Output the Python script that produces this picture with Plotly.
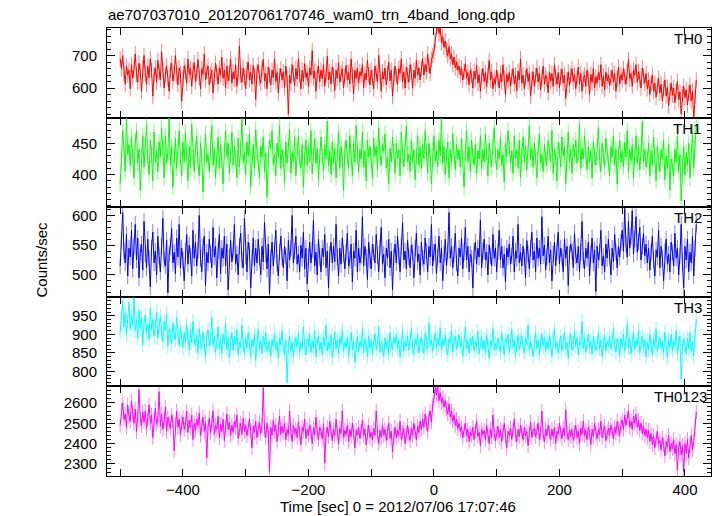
import plotly.graph_objects as go

# time grid of the light curve bins (seconds from 2012/07/06 17:07:46)
T_START = -500
T_STEP = 2

th0 = [
    690, 660, 700, 645, 612, 668, 640, 655, 598, 672,
    630, 658, 705, 642, 618, 676, 650, 590, 664, 700,
    645, 612, 668, 632, 690, 655, 575, 640, 662, 618,
    685, 648, 626, 712, 655, 600, 640, 668, 630, 590,
    655, 676, 622, 645, 700, 638, 610, 662, 644, 560,
    630, 668, 650, 615, 690, 642, 660, 605, 655, 678,
    620, 645, 688, 632, 598, 660, 642, 705, 625, 650,
    668, 610, 640, 655, 585, 632, 676, 648, 612, 662,
    640, 695, 630, 655, 600, 668, 622, 645, 690, 615,
    650, 628, 672, 605, 645, 730, 640, 618, 662, 635,
    598, 655, 680, 625, 648, 612, 670, 640, 565, 650,
    672, 630, 615, 660, 688, 622, 645, 598, 665, 640,
    610, 655, 632, 690, 620, 648, 585, 638, 660, 625,
    650, 602, 668, 630, 520, 640, 615, 672, 645, 608,
    660, 628, 690, 640, 598, 655, 620, 675, 632, 648,
    605, 662, 640, 715, 630, 652, 590, 645, 668, 620,
    655, 628, 672, 606, 640, 698, 625, 650, 612, 665,
    640, 592, 655, 630, 678, 618, 645, 660, 600, 638,
    670, 625, 648, 612, 690, 640, 582, 655, 630, 662,
    615, 650, 638, 672, 600, 645, 625, 685, 640, 610,
    655, 632, 598, 668, 645, 620, 700, 638, 590, 650,
    628, 662, 610, 645, 680, 622, 655, 575, 640, 668,
    635, 612, 660, 645, 690, 620, 650, 600, 665, 640,
    618, 672, 648, 600, 655, 630, 685, 640, 662, 625,
    660, 690, 640, 672, 650, 705, 668, 645, 688, 700,
    712, 748, 790, 800, 768, 785, 740, 758, 725, 745,
    718, 700, 728, 690, 705, 672, 695, 662, 680, 655,
    668, 640, 662, 625, 650, 675, 632, 648, 610, 655,
    638, 600, 652, 628, 670, 615, 642, 590, 635, 660,
    620, 648, 605, 640, 685, 625, 650, 598, 630, 612,
    655, 628, 600, 645, 618, 672, 630, 580, 642, 620,
    648, 605, 635, 660, 612, 640, 592, 652, 625, 690,
    615, 640, 598, 632, 660, 620, 645, 575, 628, 650,
    605, 638, 662, 618, 645, 595, 630, 668, 612, 640,
    628, 585, 650, 622, 645, 605, 672, 630, 612, 648,
    600, 635, 658, 615, 640, 568, 625, 650, 608, 638,
    660, 620, 642, 598, 630, 665, 612, 645, 590, 628,
    640, 605, 655, 628, 580, 642, 618, 660, 600, 635,
    615, 648, 625, 672, 605, 638, 595, 650, 622, 640,
    608, 632, 655, 618, 645, 590, 628, 665, 612, 642,
    625, 660, 635, 612, 650, 688, 628, 645, 605, 655,
    640, 672, 618, 650, 628, 600, 662, 635, 615, 645,
    598, 625, 580, 612, 640, 590, 615, 572, 605, 630,
    585, 612, 560, 598, 625, 575, 602, 545, 590, 615,
    578, 600, 555, 592, 620, 565, 588, 520, 580, 605,
    570, 595, 548, 585, 610, 560, 590, 505, 575, 625,
]

th1 = [
    385, 420, 470, 440, 405, 490, 432, 448, 415, 460,
    428, 395, 452, 470, 418, 440, 375, 430, 462, 412,
    445, 480, 425, 400, 455, 432, 390, 468, 420, 438,
    405, 452, 428, 475, 440, 395, 462, 418, 435, 490,
    415, 445, 380, 432, 458, 410, 440, 470, 425, 398,
    452, 420, 468, 435, 390, 445, 412, 480, 428, 405,
    440, 462, 418, 398, 450, 425, 372, 438, 465, 420,
    432, 405, 455, 478, 415, 442, 395, 425, 460, 410,
    448, 420, 385, 438, 470, 428, 450, 402, 432, 468,
    415, 445, 425, 395, 458, 412, 440, 490, 420, 435,
    400, 452, 430, 465, 380, 425, 448, 410, 472, 438,
    420, 395, 445, 428, 460, 405, 435, 365, 425, 455,
    442, 470, 415, 432, 398, 450, 428, 478, 410, 440,
    425, 388, 452, 418, 445, 472, 402, 435, 420, 460,
    398, 438, 462, 425, 410, 448, 380, 430, 455, 415,
    445, 420, 470, 402, 435, 458, 418, 442, 392, 428,
    460, 430, 405, 448, 425, 485, 415, 438, 400, 452,
    418, 442, 395, 432, 468, 410, 445, 425, 375, 438,
    455, 428, 410, 462, 435, 398, 450, 420, 478, 432,
    405, 440, 425, 468, 412, 438, 390, 455, 428, 445,
    422, 395, 458, 430, 445, 408, 475, 432, 415, 448,
    438, 465, 410, 428, 385, 442, 420, 460, 435, 402,
    450, 425, 440, 398, 468, 430, 412, 445, 478, 420,
    432, 405, 455, 420, 440, 392, 428, 462, 415, 445,
    410, 448, 425, 470, 435, 402, 450, 428, 385, 440,
    462, 420, 438, 412, 455, 430, 490, 418, 445, 400,
    428, 452, 395, 440, 420, 465, 432, 408, 448, 425,
    440, 412, 458, 425, 380, 435, 470, 420, 445, 405,
    455, 430, 415, 448, 402, 438, 425, 462, 410, 440,
    420, 465, 435, 398, 450, 428, 412, 445, 475, 430,
    408, 440, 425, 458, 415, 432, 388, 450, 428, 470,
    445, 418, 438, 402, 462, 425, 440, 410, 455, 395,
    432, 460, 420, 445, 408, 435, 478, 425, 442, 412,
    450, 428, 395, 440, 465, 418, 432, 405, 448, 425,
    415, 455, 435, 420, 470, 402, 440, 428, 390, 452,
    438, 412, 460, 430, 445, 385, 425, 468, 420, 440,
    402, 448, 428, 455, 418, 435, 480, 410, 442, 425,
    462, 430, 408, 445, 420, 438, 395, 452, 428, 415,
    440, 475, 425, 405, 450, 430, 412, 458, 435, 420,
    398, 445, 428, 462, 415, 440, 385, 432, 455, 420,
    438, 412, 452, 428, 470, 405, 440, 422, 448, 395,
    432, 462, 418, 445, 408, 435, 485, 420, 440, 412,
    425, 450, 398, 438, 415, 460, 428, 390, 445, 420,
    405, 440, 425, 455, 392, 430, 410, 448, 375, 425,
    415, 398, 440, 420, 462, 405, 432, 358, 418, 445,
    400, 435, 415, 450, 395, 428, 468, 410, 445, 480,
]

th2 = [
    515, 558, 605, 540, 520, 568, 498, 545, 530, 575,
    510, 548, 585, 525, 562, 495, 538, 552, 508, 590,
    535, 512, 560, 528, 480, 545, 572, 520, 540, 500,
    565, 532, 505, 548, 595, 525, 515, 558, 470, 535,
    548, 578, 520, 538, 502, 562, 530, 585, 512, 545,
    525, 490, 540, 568, 518, 550, 532, 498, 575, 528,
    555, 515, 542, 600, 528, 505, 548, 565, 482, 538,
    520, 560, 535, 512, 580, 530, 548, 495, 540, 568,
    502, 545, 528, 565, 515, 552, 475, 530, 558, 522,
    540, 585, 518, 535, 500, 548, 570, 525, 512, 595,
    532, 505, 555, 540, 478, 528, 562, 515, 545, 520,
    560, 530, 500, 548, 522, 588, 535, 510, 552, 468,
    528, 555, 515, 542, 575, 520, 498, 538, 565, 530,
    512, 548, 532, 490, 558, 525, 545, 600, 520, 540,
    565, 518, 535, 505, 550, 528, 572, 510, 545, 485,
    530, 555, 520, 542, 592, 515, 538, 500, 560, 528,
    505, 545, 530, 568, 512, 540, 478, 535, 555, 520,
    548, 522, 585, 530, 498, 545, 518, 562, 535, 510,
    538, 570, 515, 525, 552, 488, 540, 528, 575, 505,
    545, 520, 532, 598, 515, 548, 530, 492, 555, 525,
    510, 552, 538, 520, 568, 532, 505, 545, 580, 518,
    535, 495, 545, 528, 560, 512, 540, 475, 530, 552,
    520, 565, 532, 505, 548, 588, 525, 540, 510, 558,
    530, 512, 550, 538, 495, 545, 570, 522, 535, 500,
    555, 528, 518, 562, 540, 505, 548, 530, 585, 515,
    538, 552, 502, 530, 565, 520, 545, 490, 535, 560,
    515, 540, 605, 528, 548, 512, 535, 570, 520, 498,
    545, 530, 562, 510, 538, 580, 525, 548, 505, 535,
    528, 478, 540, 555, 518, 545, 530, 592, 512, 540,
    560, 525, 538, 500, 550, 532, 515, 568, 528, 545,
    505, 540, 575, 525, 548, 512, 535, 488, 545, 530,
    552, 518, 532, 565, 505, 540, 528, 585, 520, 538,
    515, 548, 530, 495, 558, 535, 510, 545, 572, 525,
    540, 505, 562, 528, 545, 518, 598, 532, 550, 508,
    530, 565, 520, 542, 490, 535, 555, 515, 540, 572,
    518, 545, 530, 505, 560, 528, 548, 482, 535, 552,
    540, 512, 570, 532, 520, 548, 505, 538, 590, 525,
    510, 545, 528, 555, 498, 535, 562, 520, 542, 472,
    548, 525, 538, 575, 515, 532, 505, 552, 528, 560,
    530, 500, 545, 522, 568, 538, 512, 548, 530, 555,
    575, 540, 612, 552, 530, 590, 545, 565, 608, 535,
    560, 598, 538, 555, 580, 525, 548, 570, 532, 552,
    520, 545, 508, 538, 565, 525, 498, 542, 530, 575,
    512, 548, 528, 490, 540, 560, 518, 535, 505, 555,
    538, 515, 570, 528, 545, 500, 532, 585, 520, 478,
    548, 525, 560, 505, 538, 520, 565, 498, 545, 585,
]

th3 = [
    905, 945, 990, 920, 958, 900, 935, 985, 915, 950,
    925, 998, 910, 940, 890, 965, 918, 945, 872, 930,
    952, 905, 928, 885, 970, 912, 940, 895, 920, 960,
    890, 925, 948, 902, 880, 935, 910, 955, 868, 915,
    900, 875, 930, 905, 885, 945, 895, 870, 918, 892,
    865, 905, 880, 925, 890, 858, 912, 878, 935, 885,
    870, 898, 850, 915, 880, 860, 905, 875, 840, 890,
    912, 868, 888, 945, 870, 895, 852, 880, 920, 862,
    885, 848, 900, 875, 930, 860, 890, 838, 878, 905,
    858, 895, 872, 912, 845, 880, 865, 925, 870, 850,
    890, 862, 905, 878, 840, 885, 868, 900, 830, 875,
    915, 860, 882, 848, 895, 870, 905, 855, 880, 868,
    842, 885, 868, 902, 858, 878, 835, 890, 872, 910,
    862, 848, 885, 770, 870, 895, 855, 880, 840, 875,
    890, 865, 905, 850, 878, 862, 920, 870, 845, 888,
    868, 900, 852, 882, 865, 910, 840, 875, 895, 858,
    880, 845, 892, 870, 925, 855, 878, 862, 898, 838,
    872, 905, 860, 885, 848, 890, 875, 912, 855, 880,
    865, 892, 840, 878, 905, 858, 882, 825, 870, 895,
    855, 880, 868, 915, 850, 888, 872, 840, 895, 862,
    885, 848, 878, 902, 860, 875, 920, 852, 880, 868,
    840, 890, 865, 882, 848, 905, 870, 858, 892, 875,
    900, 862, 885, 838, 875, 910, 855, 880, 868, 895,
    858, 882, 915, 865, 845, 888, 872, 900, 850, 878,
    892, 868, 850, 905, 875, 862, 930, 870, 885, 855,
    880, 905, 862, 890, 872, 918, 858, 885, 870, 898,
    865, 845, 888, 875, 910, 852, 880, 895, 860, 878,
    900, 868, 885, 840, 875, 920, 862, 882, 850, 890,
    872, 895, 855, 880, 865, 908, 848, 878, 892, 860,
    885, 850, 898, 870, 835, 882, 868, 915, 858, 875,
    862, 890, 875, 852, 905, 870, 845, 888, 878, 900,
    850, 880, 915, 865, 885, 842, 875, 898, 860, 882,
    895, 868, 850, 890, 872, 925, 858, 880, 865, 840,
    878, 905, 862, 885, 848, 875, 900, 868, 892, 855,
    882, 860, 898, 872, 840, 888, 915, 865, 878, 850,
    870, 895, 855, 880, 905, 862, 878, 835, 885, 900,
    858, 875, 910, 868, 890, 845, 880, 872, 935, 862,
    888, 852, 875, 900, 865, 882, 848, 895, 870, 858,
    875, 905, 862, 885, 840, 878, 898, 855, 882, 868,
    895, 860, 880, 915, 870, 852, 888, 875, 842, 890,
    868, 900, 855, 882, 928, 865, 890, 848, 878, 905,
    860, 885, 870, 912, 850, 878, 895, 862, 885, 840,
    880, 858, 900, 872, 845, 888, 865, 915, 855, 878,
    892, 862, 880, 850, 905, 870, 838, 885, 868, 900,
    855, 882, 870, 910, 848, 878, 895, 780, 865, 888,
    872, 848, 890, 862, 905, 855, 880, 842, 895, 940,
]

th0123 = [
    2490, 2565, 2600, 2520, 2545, 2480, 2590, 2535, 2510, 2610,
    2545, 2500, 2570, 2460, 2535, 2665, 2520, 2490, 2555, 2505,
    2560, 2475, 2525, 2590, 2500, 2540, 2430, 2515, 2575, 2495,
    2520, 2655, 2485, 2545, 2470, 2510, 2580, 2460, 2530, 2500,
    2475, 2540, 2510, 2365, 2495, 2560, 2480, 2520, 2445, 2505,
    2530, 2470, 2495, 2560, 2455, 2515, 2480, 2540, 2420, 2500,
    2465, 2520, 2490, 2550, 2440, 2485, 2530, 2460, 2505, 2330,
    2480, 2525, 2455, 2500, 2560, 2445, 2490, 2470, 2535, 2430,
    2495, 2460, 2520, 2415, 2480, 2545, 2470, 2505, 2440, 2490,
    2455, 2510, 2480, 2540, 2425, 2470, 2500, 2445, 2525, 2460,
    2490, 2440, 2475, 2520, 2460, 2380, 2485, 2455, 2510, 2430,
    2470, 2505, 2450, 2490, 2675, 2465, 2430, 2500, 2450, 2260,
    2480, 2440, 2515, 2460, 2490, 2410, 2470, 2535, 2445, 2485,
    2455, 2500, 2420, 2470, 2445, 2560, 2460, 2410, 2490, 2450,
    2475, 2430, 2505, 2450, 2395, 2480, 2460, 2520, 2425, 2470,
    2440, 2490, 2460, 2400, 2475, 2445, 2530, 2455, 2420, 2480,
    2460, 2425, 2495, 2305, 2450, 2480, 2435, 2510, 2465, 2415,
    2470, 2440, 2520, 2455, 2400, 2475, 2450, 2560, 2430, 2465,
    2445, 2490, 2410, 2470, 2435, 2500, 2455, 2380, 2465, 2440,
    2480, 2425, 2460, 2515, 2440, 2470, 2395, 2455, 2490, 2430,
    2455, 2420, 2475, 2440, 2560, 2450, 2400, 2465, 2430, 2490,
    2440, 2470, 2415, 2455, 2500, 2425, 2460, 2360, 2445, 2480,
    2430, 2465, 2440, 2510, 2420, 2455, 2475, 2400, 2450, 2490,
    2445, 2415, 2475, 2440, 2500, 2460, 2420, 2485, 2455, 2510,
    2470, 2520, 2480, 2545, 2500, 2460, 2530, 2560, 2505, 2590,
    2620, 2675, 2640, 2690, 2610, 2650, 2600, 2625, 2580, 2610,
    2570, 2545, 2595, 2530, 2560, 2510, 2540, 2490, 2520, 2475,
    2500, 2460, 2480, 2430, 2465, 2500, 2440, 2470, 2410, 2455,
    2440, 2480, 2420, 2460, 2510, 2435, 2455, 2390, 2470, 2445,
    2465, 2420, 2490, 2445, 2400, 2470, 2430, 2540, 2450, 2415,
    2450, 2485, 2430, 2470, 2410, 2455, 2500, 2435, 2380, 2460,
    2440, 2475, 2420, 2465, 2520, 2445, 2410, 2470, 2435, 2490,
    2455, 2420, 2480, 2440, 2460, 2390, 2450, 2505, 2430, 2465,
    2475, 2435, 2460, 2500, 2420, 2455, 2560, 2445, 2410, 2470,
    2440, 2490, 2455, 2420, 2470, 2435, 2480, 2400, 2460, 2445,
    2500, 2450, 2425, 2475, 2440, 2565, 2455, 2420, 2465, 2435,
    2470, 2415, 2455, 2490, 2430, 2460, 2400, 2475, 2445, 2510,
    2440, 2465, 2420, 2480, 2455, 2395, 2470, 2435, 2500, 2450,
    2425, 2470, 2445, 2510, 2430, 2460, 2485, 2415, 2455, 2475,
    2440, 2490, 2460, 2425, 2480, 2450, 2510, 2470, 2440, 2495,
    2515, 2470, 2540, 2490, 2525, 2560, 2480, 2510, 2470, 2535,
    2500, 2545, 2480, 2515, 2465, 2500, 2450, 2485, 2440, 2470,
    2430, 2465, 2410, 2450, 2395, 2440, 2380, 2425, 2460, 2400,
    2415, 2370, 2430, 2395, 2340, 2410, 2385, 2440, 2360, 2400,
    2375, 2420, 2350, 2395, 2270, 2380, 2410, 2345, 2390, 2260,
    2400, 2355, 2420, 2330, 2390, 2440, 2370, 2410, 2480, 2555,
]

series = [th0, th1, th2, th3, th0123]
names = ["TH0", "TH1", "TH2", "TH3", "TH0123"]
errors = [24, 13, 14, 20, 36]
colors = ["#ff0000", "#00ff00", "#0000ff", "#00ffff", "#ff00ff"]
err_colors = ["rgba(255,0,0,0.5)", "rgba(0,255,0,0.5)", "rgba(0,0,255,0.5)",
              "rgba(0,255,255,0.5)", "rgba(255,0,255,0.5)"]
y_ranges = [[509, 785], [348, 491], [463, 614], [760, 1001], [2241, 2681]]
y_ticks = [[600, 700], [400, 450], [500, 550, 600], [800, 850, 900, 950],
           [2300, 2400, 2500, 2600]]
y_minor = [20, 10, 10, 10, 20]
x_range = [-521, 441.5]
x_ticks = [-500, -400, -300, -200, -100, 0, 100, 200, 300, 400]
x_labels = ["", "\u2212400", "", "\u2212200", "", "0", "", "200", "", "400"]

title_text = "ae707037010_20120706170746_wam0_trn_4band_long.qdp"
x_title = "Time [sec] 0 = 2012/07/06 17:07:46"
y_title = "Counts/sec"

W, H = 717, 516
ML, MR, MT, MB = 107, 6, 28, 40
PW, PH = W - ML - MR, H - MT - MB
FONT = "Liberation Sans, Arial, Helvetica, sans-serif"
label_right_px = [703, 702, 703, 703, 708]
label_below_top_px = 10.5


def px_x(px):
    return (px - ML) / PW


def px_y(py):
    return 1 - (py - MT) / PH


fig = go.Figure()
n = len(series)
layout = {}
for i, (vals, col, ecol, err) in enumerate(zip(series, colors, err_colors, errors)):
    t = [T_START + T_STEP * k for k in range(len(vals))]
    xa = "x" if i == 0 else f"x{i+1}"
    ya = "y" if i == 0 else f"y{i+1}"
    fig.add_trace(go.Scatter(
        x=t, y=vals, mode="lines", xaxis=xa, yaxis=ya,
        line=dict(color=col, width=1),
        error_y=dict(type="constant", value=err, color=ecol, thickness=1, width=0),
        showlegend=False, hoverinfo="skip",
    ))
    top = 1 - i / n
    bot = 1 - (i + 1) / n
    xkey = "xaxis" if i == 0 else f"xaxis{i+1}"
    ykey = "yaxis" if i == 0 else f"yaxis{i+1}"
    layout[xkey] = dict(
        anchor=ya, range=x_range, showline=True, linecolor="black", linewidth=1,
        mirror="ticks", ticks="inside", ticklen=7, tickcolor="black",
        tickvals=x_ticks, ticktext=x_labels, showticklabels=(i == n - 1),
        showgrid=False, zeroline=False,
        tickfont=dict(family=FONT, size=15, color="black"),
        matches=None if i == 0 else "x",
    )
    layout[ykey] = dict(
        anchor=xa, domain=[bot, top], range=y_ranges[i], showline=True,
        linecolor="black", linewidth=1, mirror="ticks", ticks="inside",
        ticklen=8, tickcolor="black", tickvals=y_ticks[i], showgrid=False,
        zeroline=False, ticklabelstandoff=6,
        minor=dict(ticks="inside", ticklen=4, dtick=y_minor[i], tickcolor="black",
                   showgrid=False),
        tickfont=dict(family=FONT, size=15, color="black"),
    )

annotations = []
for i, name in enumerate(names):
    panel_top_px = MT + i * PH / n
    annotations.append(dict(
        text=name, xref="paper", yref="paper", x=px_x(label_right_px[i]),
        y=px_y(panel_top_px + label_below_top_px),
        xanchor="right", yanchor="middle", showarrow=False, borderpad=0,
        font=dict(family=FONT, size=15, color="black"),
    ))
annotations.append(dict(
    text=title_text, xref="paper", yref="paper", x=0, y=px_y(15),
    xanchor="left", yanchor="middle", showarrow=False, borderpad=0,
    font=dict(family=FONT, size=15, color="black"),
))
annotations.append(dict(
    text=x_title, xref="paper", yref="paper", x=px_x(398), y=px_y(506.5),
    xanchor="center", yanchor="middle", showarrow=False, borderpad=0,
    font=dict(family=FONT, size=15, color="black"),
))
annotations.append(dict(
    text=y_title, xref="paper", yref="paper", x=px_x(41), y=px_y(259.5),
    xanchor="center", yanchor="middle", textangle=-90, showarrow=False,
    font=dict(family=FONT, size=15, color="black"),
))

fig.update_layout(
    width=W, height=H, margin=dict(l=ML, r=MR, t=MT, b=MB, pad=0),
    paper_bgcolor="white", plot_bgcolor="white",
    annotations=annotations, **layout,
)
fig.write_html(
    "out.html",
    config={"displayModeBar": False},
    post_script="document.body.style.margin='0';document.body.style.overflow='hidden';",
)
